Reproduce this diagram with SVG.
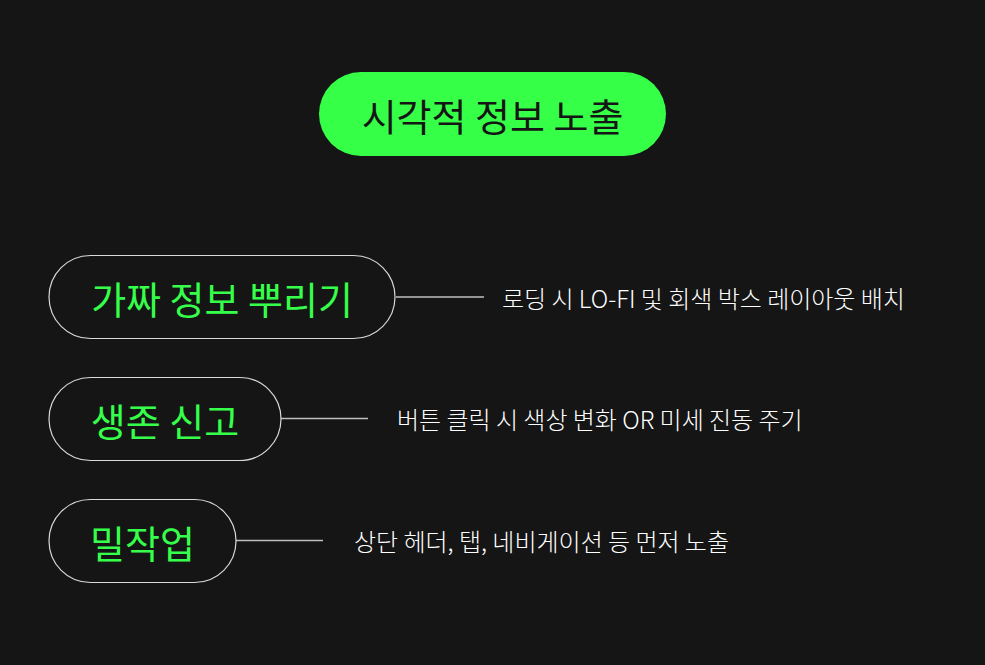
<svg xmlns="http://www.w3.org/2000/svg" width="985" height="665" viewBox="0 0 985 665">
<style>
text{font-family:"Noto Sans CJK KR","Noto Sans",sans-serif;dominant-baseline:central}
.title{font-size:38px;fill:#151515;text-anchor:middle}
.pill{fill:#151515;stroke:#d9d9d9;stroke-width:1.2}
.ntext{font-size:38px;fill:#35ff4a;text-anchor:middle}
.label{font-size:24px;fill:#ffffff;font-weight:300}
.conn{stroke:#bfbfbf;stroke-width:1.3}
</style>
<rect width="985" height="665" fill="#151515"/>
<g id="title">
<rect x="319" y="72" width="347" height="84" rx="42" fill="#35ff47"/>
<text class="title" x="492.5" y="114">시각적 정보 노출</text>
</g>
<g id="connectors">
<line class="conn" x1="396" y1="297" x2="484" y2="297"/>
<line class="conn" x1="281" y1="418.5" x2="368" y2="418.5"/>
<line class="conn" x1="236" y1="540.5" x2="323" y2="540.5"/>
</g>
<g id="node1">
<rect class="pill" x="49" y="255.5" width="346" height="83" rx="41.5"/>
<text class="ntext" x="222" y="297">가짜 정보 뿌리기</text>
</g>
<g id="label1"><text class="label" x="502" y="297">로딩 시 LO-FI 및 회색 박스 레이아웃 배치</text></g>
<g id="node2">
<rect class="pill" x="49" y="377.5" width="232" height="83" rx="41.5"/>
<text class="ntext" x="165" y="419">생존 신고</text>
</g>
<g id="label2"><text class="label" x="397" y="418">버튼 클릭 시 색상 변화 OR 미세 진동 주기</text></g>
<g id="node3">
<rect class="pill" x="49" y="499.5" width="187" height="83" rx="41.5"/>
<text class="ntext" x="142.5" y="541">밀작업</text>
</g>
<g id="label3"><text class="label" x="354" y="540">상단 헤더, 탭, 네비게이션 등 먼저 노출</text></g>
</svg>
